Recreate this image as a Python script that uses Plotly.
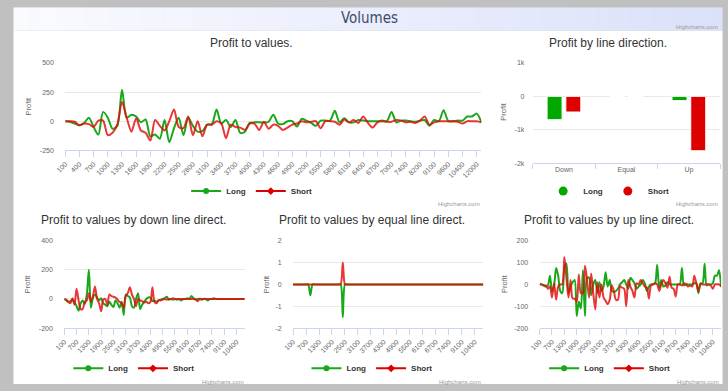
import plotly.graph_objects as go

# ---------------- data ----------------
categories = [str(v) for v in range(100, 7100, 100)] + [
    "7100", "7200", "7400", "7600", "7900", "8200", "8500", "8800", "9100",
    "9300", "9400", "9600", "9800", "10000", "10400", "10800", "11400", "12000", "15000"]

all_long = [0, -5, -20, -35, -15, 30, -50, -115, 80, 30, -65, -40, 270,
            30, 55, 40, -10, 15, -130, -115, -150, 10, -180, -60, 30, -120, 30, -40, -90, -85,
            -30, -25, 100, -20, 10, -50, 10, -100, -90, -15, -10, -10, -12, -5, 55, -20, -25, 0,
            0, -45, 20, 5, -15, -40, 5, 5, 5, 90, -10, 25, -10, -10, 10, 5, 0, 0, 0, 5, 0, 80,
            -10, 5, 5, 0, -5, 5, 10, -40, 10, 0, 95, 0, 0, 5, 5, 40, 40, 65, -10]
all_short = [0, 0, -5, -35, -20, -25, -50, 5, 5, -120, -100, -30, 165,
             30, -90, 25, -80, -100, -165, 10, -40, -80, 0, 100, -50, -60, 40, -120, 0, -130,
             -30, -30, 0, -20, -145, -30, -50, -55, -75, -20, -20, -75, -5, -65, -30, -40, -75, -55,
             -30, -20, 0, -10, -5, 0, -60, 0, 0, -5, -30, 15, -10, 10, -15, 40, -15, -55, -10, 0,
             -5, -5, 10, 5, -10, -5, -15, 5, 40, -30, -10, 0, 0, 0, 0, -5, -20, 0, 0, 0, -10]

down_long = [0, -10, -20, -15, -5, -20, -50, -80, -30, -10, -35, 30, 200,
             -60, 10, 30, 10, -10, 5, -30, -40, -50, -20, -40, -55, -10, -30, -60, -20, -110,
             30, 20, 10, -50, -60, 0, 40, -70, -40, -20, 0, 10, 10, -15, -10, -20, -10, -5,
             0, 5, 15, -5, 0, -5, 0, -5, 0, -10, 0, 0, 5, 0, 20, 5, -5, 0, 0, -5, 0, 0,
             -10, 0, 0, 0, 0, 0, 0, 0, 0, 0, 0, 0, 0, 0, 0, 0, 0, 0, 0]
down_short = [0, -5, -20, -30, 5, -40, 70, -10, -70, -70, -20, -10, 40,
              -20, 20, 85, 0, -30, -85, -5, 0, -40, 30, 20, 15, 10, -5, -20, -30, -60,
              20, 40, 80, 30, 0, -50, 0, -10, -15, -25, -20, -30, -20, 80, -20, -30, -10, -10,
              -5, 0, -5, 0, 0, 5, 0, 0, 0, 0, 0, 0, 0, 0, 0, 0, 0, -15, 0, 0, 0, 0,
              0, 0, 0, 5, 0, 0, 0, 0, 0, 0, 0, 0, 0, 0, 0, 0, 0, 0, 0]

equal_long = [0] * 8 + [-0.5] + [0] * 14 + [-1.5] + [0] * 65
equal_short = [0] * 23 + [1] + [0] * 65

up_long = [0, 0, -5, -10, -5, 40, -30, -5, 75, 40, -30, -40, 75,
           95, -40, -10, 10, 20, -145, -80, -110, 65, -145, 30, 30, -50, 0, 20, -40, 10,
           -30, -10, 55, -10, 20, -30, -35, -30, -20, 0, 10, 20, 0, -20, 30, 20, 5, -20,
           -10, 0, 20, 5, -30, -10, 0, 0, 5, 90, -15, 20, -10, -5, 10, 0, 0, 0, 0, 0, 0, 75,
           -5, 0, 0, 0, 0, 5, 5, -40, 5, 5, 95, -5, 0, 0, 5, 40, 40, 65, -10]
up_short = [0, 0, -5, -5, -20, -10, -60, 5, -70, -10, 0, 0, 125,
            30, -60, 20, -65, -65, -80, 45, -40, -40, 85, 20, -60, 50, -40, -115, 10, -60,
            0, -60, -75, -90, -70, -5, -30, -70, -70, -10, -15, -20, -100, 20, -10, -30, -60, 5,
            0, 20, 5, -10, -15, -65, -5, 0, 5, 0, -30, 0, 20, 5, -15, 35, -15, -20, -55, 0,
            0, -5, 5, 0, -10, -5, -10, 40, 5, -30, 0, 0, 0, 0, 0, -5, -20, 0, 0, 0, -10]

directions = ["Down", "Equal", "Up"]
dir_long = [-700, 0, -130]
dir_short = [-470, 0, -1630]

# ---------------- style ----------------
W, H = 728, 391
GREEN = "rgb(25,168,25)"
RED = "rgba(228,10,10,0.82)"
RED_SOLID = "rgb(222,0,0)"
FONT = "Liberation Sans"
AXC = "#ccd6eb"
GRID = "#e9e9e9"


def px(x):
    return x / W


def py(y):
    return 1 - y / H


fig = go.Figure()

line_charts = [
    (all_long, all_short, "", "legend", (56, 478), (60, 149), (-250, 500), [-250, 0, 250, 500], 3),
    (down_long, down_short, "3", "legend3", (55, 238), (241, 330), (-200, 400), [-200, 0, 200, 400], 6),
    (equal_long, equal_short, "4", "legend4", (287, 480), (241, 330), (-2, 2), [-2, -1, 0, 1, 2], 6),
    (up_long, up_short, "5", "legend5", (537, 721), (241, 330), (-200, 200), [-200, -100, 0, 100, 200], 6),
]

layout_axes = {}
for lng, sht, sfx, leg, xd, yd, yr, ytv, step in line_charts:
    xa = "x" + sfx
    ya = "y" + sfx
    fig.add_trace(go.Scatter(x=categories, y=lng, mode="lines", name="Long",
                             line=dict(color=GREEN, width=2, shape="spline", smoothing=0.8),
                             xaxis=xa, yaxis=ya, showlegend=False, legendgroup="L" + sfx,
                             hoverinfo="x+y+name"))
    fig.add_trace(go.Scatter(x=categories, y=sht, mode="lines", name="Short",
                             line=dict(color=RED, width=2, shape="spline", smoothing=0.8),
                             xaxis=xa, yaxis=ya, showlegend=False, legendgroup="S" + sfx,
                             hoverinfo="x+y+name"))
    fig.add_trace(go.Scatter(x=[None], y=[None], mode="lines+markers", name="Long",
                             line=dict(color=GREEN, width=2),
                             marker=dict(symbol="circle", size=6, color=GREEN),
                             xaxis=xa, yaxis=ya, legend=leg, legendgroup="L" + sfx))
    fig.add_trace(go.Scatter(x=[None], y=[None], mode="lines+markers", name="Short",
                             line=dict(color=RED_SOLID, width=2),
                             marker=dict(symbol="diamond", size=6, color=RED_SOLID),
                             xaxis=xa, yaxis=ya, legend=leg, legendgroup="S" + sfx))
    ticks = categories[::step]
    key_x = "xaxis" + sfx
    key_y = "yaxis" + sfx
    layout_axes[key_x] = dict(
        type="category", categoryorder="array", categoryarray=categories,
        range=[0, len(categories) - 1], domain=[px(xd[0]), px(xd[1])],
        anchor=ya, tickmode="array", tickvals=ticks, ticktext=ticks, tickangle=-45,
        ticks="outside", ticklen=6, tickcolor=AXC, showline=True, linecolor=AXC, linewidth=1,
        showgrid=False, zeroline=False,
        tickfont=dict(family=FONT, size=7, color="#666666"))
    layout_axes[key_y] = dict(
        range=list(yr), domain=[py(yd[1]), py(yd[0])], anchor=xa,
        tickmode="array", tickvals=ytv, ticktext=[str(v) for v in ytv],
        ticks="outside", ticklen=9, tickcolor="rgba(0,0,0,0)",
        showgrid=True, gridcolor=GRID, gridwidth=1, zeroline=False, showline=False,
        tickfont=dict(family=FONT, size=7, color="#666666"))

# bar chart
fig.add_trace(go.Bar(x=directions, y=dir_long, name="Long", marker=dict(color="#00a800", line=dict(color="#ffffff", width=1)),
                     xaxis="x2", yaxis="y2", showlegend=False, legendgroup="Lb"))
fig.add_trace(go.Bar(x=directions, y=dir_short, name="Short", marker=dict(color="#dd0000", line=dict(color="#ffffff", width=1)),
                     xaxis="x2", yaxis="y2", showlegend=False, legendgroup="Sb"))
fig.add_trace(go.Scatter(x=[None], y=[None], mode="markers", name="Long",
                         marker=dict(symbol="circle", size=9, color="#00a800"),
                         xaxis="x2", yaxis="y2", legend="legend2", legendgroup="Lb"))
fig.add_trace(go.Scatter(x=[None], y=[None], mode="markers", name="Short",
                         marker=dict(symbol="circle", size=9, color="#dd0000"),
                         xaxis="x2", yaxis="y2", legend="legend2", legendgroup="Sb"))
layout_axes["xaxis2"] = dict(
    type="category", domain=[px(530), px(720)], anchor="y2", range=[-0.5, 2.5],
    ticks="outside", tickson="boundaries", ticklen=5, tickcolor=AXC,
    showline=True, linecolor=AXC, showgrid=False, zeroline=False,
    tickfont=dict(family=FONT, size=7, color="#666666"))
layout_axes["yaxis2"] = dict(
    range=[-2000, 1000], domain=[py(162), py(60)], anchor="x2",
    tickmode="array", tickvals=[-2000, -1000, 0, 1000], ticktext=["-2k", "-1k", "0", "1k"],
    ticks="outside", ticklen=6, tickcolor="rgba(0,0,0,0)",
    showgrid=True, gridcolor=GRID, zeroline=False, showline=False,
    tickfont=dict(family=FONT, size=7, color="#666666"))

# ---------------- decorations ----------------
shapes = []
shapes.append(dict(type="rect", xref="paper", yref="paper", x0=px(3.5), x1=px(722.5),
                   y0=py(387), y1=py(27), fillcolor="#ffffff", line=dict(width=0), layer="below"))
N = 90
c0 = (250, 251, 255)
c1 = (219, 225, 249)
x_start, x_end = 3.5, 722.5
for k in range(N):
    t = k / (N - 1)
    col = tuple(round(c0[j] + (c1[j] - c0[j]) * t) for j in range(3))
    xa0 = x_start + (x_end - x_start) * k / N
    xa1 = x_start + (x_end - x_start) * (k + 1) / N + 0.6
    shapes.append(dict(type="rect", xref="paper", yref="paper", x0=px(xa0), x1=px(min(xa1, x_end)),
                       y0=py(27), y1=py(3.5), fillcolor="rgb(%d,%d,%d)" % col,
                       line=dict(width=0), layer="below"))

annotations = []


def ann(text, x, y, size, color, xanchor="center", angle=0, family=FONT):
    annotations.append(dict(text=text, x=px(x), y=py(y), xref="paper", yref="paper",
                            xanchor=xanchor, yanchor="middle", showarrow=False, textangle=angle,
                            font=dict(family=family, size=size, color=color)))


ann("Volumes", 364, 14, 15, "#3d4b6b", family="DejaVu Sans Condensed, Liberation Sans Narrow, sans-serif")
for text, x, y in [("Profit to values.", 245, 39.5),
                   ("Profit by line direction.", 606.5, 39.5),
                   ("Profit to values by down line direct.", 125, 220),
                   ("Profit to values by equal line direct.", 367, 220),
                   ("Profit to values by up line direct.", 607.5, 220)]:
    ann(text, x, y, 12, "#333333")
for x, y in [(18.5, 104), (499.5, 110), (18.5, 285), (260, 285), (502, 285)]:
    ann("Profit", x, y, 7.5, "#666666", angle=-90)
for x, y in [(719.6, 23), (478.7, 203.7), (720, 204), (239, 384.5), (480, 384.5), (720.7, 384.5)]:
    ann("Highcharts.com", x, y, 6, "#999999", xanchor="right")

legend_common = dict(orientation="h", xanchor="center", yanchor="middle", bgcolor="rgba(0,0,0,0)",
                     font=dict(family=FONT, size=8, color="#333333", weight="bold"),
                     itemwidth=30, tracegroupgap=0, itemclick="toggle")

fig.update_layout(
    width=W, height=H, autosize=False,
    margin=dict(l=0, r=0, t=0, b=0),
    paper_bgcolor="#c0c0c0", plot_bgcolor="#ffffff",
    barmode="group", bargap=0.4, bargroupgap=0.2,
    shapes=shapes, annotations=annotations,
    legend=dict(x=px(245), y=py(190.5), **legend_common),
    legend2=dict(x=px(607), y=py(190.5), **legend_common),
    legend3=dict(x=px(125.5), y=py(371), **legend_common),
    legend4=dict(x=px(367), y=py(371), **legend_common),
    legend5=dict(x=px(608), y=py(371), **legend_common),
    hovermode="closest",
)
fig.update_layout(**layout_axes)

fig.write_html("out.html", config={"displayModeBar": False},
               post_script="document.body.style.margin='0';document.body.style.overflow='hidden';")
